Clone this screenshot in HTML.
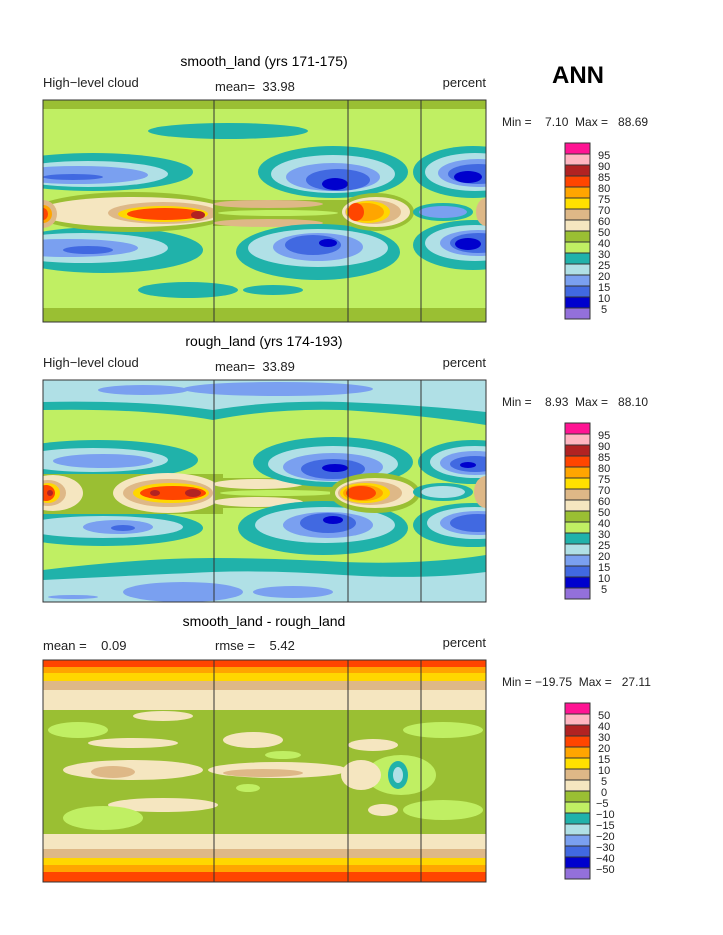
<!DOCTYPE html>
<html><head><meta charset="utf-8"><style>
body{margin:0;background:#fff;}
svg{display:block;font-family:"Liberation Sans",sans-serif;}
text{white-space:pre;}
</style></head><body>
<svg width="723" height="935" viewBox="0 0 723 935" xmlns="http://www.w3.org/2000/svg" xml:space="preserve">
<defs>
<clipPath id="cp"><rect x="0" y="0" width="443" height="222"/></clipPath>
</defs>
<rect width="723" height="935" fill="#fff"/>
<text x="578" y="83" font-size="24" font-weight="bold" text-anchor="middle">ANN</text>

<!-- Panel 1 -->
<text x="264" y="66" font-size="14" text-anchor="middle">smooth_land (yrs 171-175)</text>
<text x="43" y="87" font-size="13" fill="#222">High−level cloud</text>
<text x="215" y="91" font-size="13" fill="#222">mean=  33.98</text>
<text x="486" y="87" font-size="13" fill="#222" text-anchor="end">percent</text>
<g transform="translate(43,100)" clip-path="url(#cp)">
<rect width="443" height="222" fill="#c0ef63"/>
<rect y="0" width="443" height="9" fill="#9abf33"/>
<rect y="208" width="443" height="14" fill="#9abf33"/>
<ellipse cx="185" cy="31" rx="80" ry="8" fill="#20b2aa"/>
<ellipse cx="145" cy="190" rx="50" ry="8" fill="#20b2aa"/>
<ellipse cx="230" cy="190" rx="30" ry="5" fill="#20b2aa"/>
<!-- left upper -->
<ellipse cx="50" cy="72" rx="100" ry="19" fill="#20b2aa"/>
<ellipse cx="45" cy="74" rx="80" ry="13" fill="#b0e0e6"/>
<ellipse cx="35" cy="75" rx="70" ry="9" fill="#7aa0f0"/>
<ellipse cx="30" cy="77" rx="30" ry="3" fill="#4169e1"/>
<!-- left lower -->
<ellipse cx="60" cy="150" rx="100" ry="23" fill="#20b2aa"/>
<ellipse cx="40" cy="148" rx="85" ry="15" fill="#b0e0e6"/>
<ellipse cx="25" cy="148" rx="70" ry="9" fill="#7aa0f0"/>
<ellipse cx="45" cy="150" rx="25" ry="4" fill="#4169e1"/>
<!-- equator band -->
<ellipse cx="90" cy="112" rx="100" ry="20" fill="#9abf33"/>
<ellipse cx="90" cy="112" rx="95" ry="15" fill="#f5e6c0"/>
<ellipse cx="120" cy="113" rx="55" ry="11" fill="#deb887"/>
<ellipse cx="120" cy="114" rx="45" ry="8" fill="#ffd700"/>
<ellipse cx="122" cy="114" rx="38" ry="6" fill="#ff4500"/>
<ellipse cx="155" cy="115" rx="7" ry="4" fill="#b22222"/>
<ellipse cx="0" cy="114" rx="14" ry="14" fill="#deb887"/>
<ellipse cx="0" cy="114" rx="9" ry="9" fill="#ffa500"/>
<ellipse cx="0" cy="114" rx="5" ry="6" fill="#ff4500"/>
<rect x="170" y="100" width="140" height="26" fill="#9abf33"/>
<ellipse cx="225" cy="104" rx="55" ry="4" fill="#deb887"/>
<ellipse cx="225" cy="123" rx="55" ry="4" fill="#deb887"/>
<ellipse cx="235" cy="113" rx="60" ry="3" fill="#c0ef63"/>
<!-- center upper -->
<ellipse cx="290" cy="72" rx="75" ry="26" fill="#20b2aa"/>
<ellipse cx="290" cy="74" rx="62" ry="19" fill="#b0e0e6"/>
<ellipse cx="290" cy="77" rx="47" ry="14" fill="#7aa0f0"/>
<ellipse cx="295" cy="80" rx="32" ry="11" fill="#4169e1"/>
<ellipse cx="292" cy="84" rx="13" ry="6" fill="#0000cd"/>
<!-- center lower -->
<ellipse cx="275" cy="152" rx="82" ry="28" fill="#20b2aa"/>
<ellipse cx="275" cy="148" rx="70" ry="19" fill="#b0e0e6"/>
<ellipse cx="275" cy="147" rx="45" ry="14" fill="#7aa0f0"/>
<ellipse cx="270" cy="145" rx="28" ry="10" fill="#4169e1"/>
<ellipse cx="285" cy="143" rx="9" ry="4" fill="#0000cd"/>
<!-- right equator -->
<ellipse cx="333" cy="112" rx="38" ry="19" fill="#9abf33"/>
<ellipse cx="333" cy="112" rx="34" ry="15" fill="#f5e6c0"/>
<ellipse cx="330" cy="112" rx="28" ry="12" fill="#deb887"/>
<ellipse cx="325" cy="112" rx="22" ry="11" fill="#ffd700"/>
<ellipse cx="323" cy="112" rx="18" ry="9" fill="#ffa500"/>
<ellipse cx="313" cy="112" rx="8" ry="9" fill="#ff4500"/>
<!-- right -->
<ellipse cx="430" cy="72" rx="60" ry="26" fill="#20b2aa"/>
<ellipse cx="432" cy="72" rx="50" ry="19" fill="#b0e0e6"/>
<ellipse cx="435" cy="73" rx="40" ry="14" fill="#7aa0f0"/>
<ellipse cx="435" cy="74" rx="30" ry="10" fill="#4169e1"/>
<ellipse cx="425" cy="77" rx="14" ry="6" fill="#0000cd"/>
<ellipse cx="430" cy="145" rx="60" ry="25" fill="#20b2aa"/>
<ellipse cx="432" cy="143" rx="50" ry="18" fill="#b0e0e6"/>
<ellipse cx="435" cy="143" rx="38" ry="13" fill="#7aa0f0"/>
<ellipse cx="435" cy="143" rx="28" ry="10" fill="#4169e1"/>
<ellipse cx="425" cy="144" rx="13" ry="6" fill="#0000cd"/>
<ellipse cx="400" cy="112" rx="30" ry="9" fill="#20b2aa"/>
<ellipse cx="400" cy="112" rx="24" ry="6" fill="#7aa0f0"/>
<ellipse cx="443" cy="112" rx="10" ry="14" fill="#deb887"/>
</g>
<rect x="43" y="100" width="443" height="222" fill="none" stroke="#333"/>
<g stroke="#333"><line x1="214" y1="100" x2="214" y2="322"/><line x1="348" y1="100" x2="348" y2="322"/><line x1="421" y1="100" x2="421" y2="322"/></g>
<text x="502" y="126" font-size="12" fill="#222">Min =    7.10  Max =   88.69</text>

<!-- Panel 2 -->
<text x="264" y="346" font-size="14" text-anchor="middle">rough_land (yrs 174-193)</text>
<text x="43" y="367" font-size="13" fill="#222">High−level cloud</text>
<text x="215" y="371" font-size="13" fill="#222">mean=  33.89</text>
<text x="486" y="367" font-size="13" fill="#222" text-anchor="end">percent</text>
<g transform="translate(43,380)" clip-path="url(#cp)">
<rect width="443" height="222" fill="#c0ef63"/>
<path d="M0 0H443V45Q380 35 300 30Q230 28 170 40Q100 28 0 30Z" fill="#20b2aa"/>
<path d="M0 0H443V32Q380 25 300 22Q230 20 170 30Q100 20 0 22Z" fill="#b0e0e6"/>
<ellipse cx="100" cy="10" rx="45" ry="5" fill="#7aa0f0"/>
<ellipse cx="235" cy="9" rx="95" ry="7" fill="#7aa0f0"/>
<path d="M0 222H443V175Q380 185 300 182Q230 178 170 178Q100 178 0 190Z" fill="#20b2aa"/>
<path d="M0 222H443V192Q380 200 300 195Q230 190 170 192Q100 195 0 200Z" fill="#b0e0e6"/>
<ellipse cx="140" cy="212" rx="60" ry="10" fill="#7aa0f0"/>
<ellipse cx="30" cy="217" rx="25" ry="2" fill="#7aa0f0"/>
<ellipse cx="250" cy="212" rx="40" ry="6" fill="#7aa0f0"/>
<ellipse cx="55" cy="80" rx="100" ry="20" fill="#20b2aa"/>
<ellipse cx="50" cy="80" rx="75" ry="12" fill="#b0e0e6"/>
<ellipse cx="60" cy="81" rx="50" ry="7" fill="#7aa0f0"/>
<ellipse cx="60" cy="148" rx="100" ry="18" fill="#20b2aa"/>
<ellipse cx="60" cy="147" rx="80" ry="11" fill="#b0e0e6"/>
<ellipse cx="75" cy="147" rx="35" ry="7" fill="#7aa0f0"/>
<ellipse cx="80" cy="148" rx="12" ry="3" fill="#4169e1"/>
<rect x="0" y="94" width="180" height="40" fill="#9abf33"/>
<ellipse cx="10" cy="113" rx="30" ry="18" fill="#f5e6c0"/>
<ellipse cx="5" cy="113" rx="18" ry="13" fill="#deb887"/>
<ellipse cx="5" cy="113" rx="12" ry="10" fill="#ffd700"/>
<ellipse cx="3" cy="113" rx="9" ry="8" fill="#ff4500"/>
<ellipse cx="7" cy="113" rx="3" ry="3" fill="#b22222"/>
<ellipse cx="125" cy="113" rx="55" ry="20" fill="#f5e6c0"/>
<ellipse cx="125" cy="113" rx="45" ry="14" fill="#deb887"/>
<ellipse cx="128" cy="113" rx="38" ry="10" fill="#ffd700"/>
<ellipse cx="130" cy="113" rx="33" ry="7" fill="#ff4500"/>
<ellipse cx="150" cy="113" rx="8" ry="4" fill="#b22222"/>
<ellipse cx="112" cy="113" rx="5" ry="3" fill="#b22222"/>
<rect x="172" y="98" width="130" height="30" fill="#9abf33"/>
<ellipse cx="215" cy="104" rx="45" ry="5" fill="#f5e6c0"/>
<ellipse cx="215" cy="122" rx="45" ry="5" fill="#f5e6c0"/>
<ellipse cx="235" cy="113" rx="58" ry="3" fill="#c0ef63"/>
<ellipse cx="290" cy="82" rx="80" ry="25" fill="#20b2aa"/>
<ellipse cx="290" cy="84" rx="65" ry="18" fill="#b0e0e6"/>
<ellipse cx="290" cy="87" rx="50" ry="14" fill="#7aa0f0"/>
<ellipse cx="290" cy="89" rx="32" ry="10" fill="#4169e1"/>
<ellipse cx="292" cy="88" rx="13" ry="4" fill="#0000cd"/>
<ellipse cx="280" cy="148" rx="85" ry="27" fill="#20b2aa"/>
<ellipse cx="282" cy="145" rx="70" ry="18" fill="#b0e0e6"/>
<ellipse cx="285" cy="145" rx="45" ry="13" fill="#7aa0f0"/>
<ellipse cx="285" cy="143" rx="28" ry="10" fill="#4169e1"/>
<ellipse cx="290" cy="140" rx="10" ry="4" fill="#0000cd"/>
<ellipse cx="332" cy="113" rx="45" ry="20" fill="#9abf33"/>
<ellipse cx="332" cy="113" rx="40" ry="15" fill="#f5e6c0"/>
<ellipse cx="327" cy="113" rx="32" ry="12" fill="#deb887"/>
<ellipse cx="322" cy="113" rx="25" ry="10" fill="#ffd700"/>
<ellipse cx="320" cy="113" rx="20" ry="8" fill="#ffa500"/>
<ellipse cx="318" cy="113" rx="15" ry="7" fill="#ff4500"/>
<ellipse cx="430" cy="82" rx="55" ry="22" fill="#20b2aa"/>
<ellipse cx="432" cy="82" rx="45" ry="16" fill="#b0e0e6"/>
<ellipse cx="432" cy="83" rx="35" ry="12" fill="#7aa0f0"/>
<ellipse cx="432" cy="84" rx="25" ry="8" fill="#4169e1"/>
<ellipse cx="425" cy="85" rx="8" ry="3" fill="#0000cd"/>
<ellipse cx="430" cy="145" rx="60" ry="22" fill="#20b2aa"/>
<ellipse cx="432" cy="143" rx="48" ry="16" fill="#b0e0e6"/>
<ellipse cx="435" cy="143" rx="38" ry="12" fill="#7aa0f0"/>
<ellipse cx="435" cy="143" rx="28" ry="9" fill="#4169e1"/>
<ellipse cx="400" cy="112" rx="30" ry="9" fill="#20b2aa"/>
<ellipse cx="400" cy="112" rx="22" ry="6" fill="#b0e0e6"/>
<ellipse cx="443" cy="112" rx="12" ry="16" fill="#deb887"/>
</g>
<rect x="43" y="380" width="443" height="222" fill="none" stroke="#333"/>
<g stroke="#333"><line x1="214" y1="380" x2="214" y2="602"/><line x1="348" y1="380" x2="348" y2="602"/><line x1="421" y1="380" x2="421" y2="602"/></g>
<text x="502" y="406" font-size="12" fill="#222">Min =    8.93  Max =   88.10</text>

<!-- Panel 3 -->
<text x="264" y="626" font-size="14" text-anchor="middle">smooth_land - rough_land</text>
<text x="43" y="650" font-size="13" fill="#222">mean =    0.09</text>
<text x="215" y="650" font-size="13" fill="#222">rmse =    5.42</text>
<text x="486" y="647" font-size="13" fill="#222" text-anchor="end">percent</text>
<g transform="translate(43,660)" clip-path="url(#cp)">
<rect width="443" height="222" fill="#9abf33"/>
<rect y="0" width="443" height="50" fill="#f5e6c0"/>
<rect y="0" width="443" height="30" fill="#deb887"/>
<rect y="0" width="443" height="21" fill="#ffd700"/>
<rect y="0" width="443" height="13" fill="#ffa500"/>
<rect y="0" width="443" height="7" fill="#ff4500"/>
<rect y="174" width="443" height="48" fill="#f5e6c0"/>
<rect y="189" width="443" height="33" fill="#deb887"/>
<rect y="198" width="443" height="24" fill="#ffd700"/>
<rect y="205" width="443" height="17" fill="#ffa500"/>
<rect y="212" width="443" height="10" fill="#ff4500"/>
<ellipse cx="120" cy="56" rx="30" ry="5" fill="#f5e6c0"/>
<ellipse cx="90" cy="110" rx="70" ry="10" fill="#f5e6c0"/>
<ellipse cx="70" cy="112" rx="22" ry="6" fill="#deb887"/>
<ellipse cx="120" cy="145" rx="55" ry="7" fill="#f5e6c0"/>
<ellipse cx="90" cy="83" rx="45" ry="5" fill="#f5e6c0"/>
<ellipse cx="235" cy="110" rx="70" ry="8" fill="#f5e6c0"/>
<ellipse cx="220" cy="113" rx="40" ry="4" fill="#deb887"/>
<ellipse cx="210" cy="80" rx="30" ry="8" fill="#f5e6c0"/>
<ellipse cx="35" cy="70" rx="30" ry="8" fill="#c0ef63"/>
<ellipse cx="60" cy="158" rx="40" ry="12" fill="#c0ef63"/>
<ellipse cx="400" cy="70" rx="40" ry="8" fill="#c0ef63"/>
<ellipse cx="400" cy="150" rx="40" ry="10" fill="#c0ef63"/>
<ellipse cx="358" cy="115" rx="35" ry="20" fill="#c0ef63"/>
<ellipse cx="318" cy="115" rx="20" ry="15" fill="#f5e6c0"/>
<ellipse cx="355" cy="115" rx="10" ry="14" fill="#20b2aa"/>
<ellipse cx="355" cy="115" rx="5" ry="8" fill="#b0e0e6"/>
<ellipse cx="240" cy="95" rx="18" ry="4" fill="#c0ef63"/>
<ellipse cx="205" cy="128" rx="12" ry="4" fill="#c0ef63"/>
<ellipse cx="330" cy="85" rx="25" ry="6" fill="#f5e6c0"/>
<ellipse cx="340" cy="150" rx="15" ry="6" fill="#f5e6c0"/>
</g>
<rect x="43" y="660" width="443" height="222" fill="none" stroke="#333"/>
<g stroke="#333"><line x1="214" y1="660" x2="214" y2="882"/><line x1="348" y1="660" x2="348" y2="882"/><line x1="421" y1="660" x2="421" y2="882"/></g>
<text x="502" y="686" font-size="12" fill="#222">Min = −19.75  Max =   27.11</text>

<g id="cb1" stroke="#333" stroke-width="1">
<rect x="565" y="143" width="25" height="11" fill="#ff1493"/>
<rect x="565" y="154" width="25" height="11" fill="#ffb6c1"/>
<rect x="565" y="165" width="25" height="11" fill="#b22222"/>
<rect x="565" y="176" width="25" height="11" fill="#ff4500"/>
<rect x="565" y="187" width="25" height="11" fill="#ffa500"/>
<rect x="565" y="198" width="25" height="11" fill="#ffe000"/>
<rect x="565" y="209" width="25" height="11" fill="#deb887"/>
<rect x="565" y="220" width="25" height="11" fill="#f5e6c0"/>
<rect x="565" y="231" width="25" height="11" fill="#9abf33"/>
<rect x="565" y="242" width="25" height="11" fill="#c0ef63"/>
<rect x="565" y="253" width="25" height="11" fill="#20b2aa"/>
<rect x="565" y="264" width="25" height="11" fill="#b0e0e6"/>
<rect x="565" y="275" width="25" height="11" fill="#7aa0f0"/>
<rect x="565" y="286" width="25" height="11" fill="#4169e1"/>
<rect x="565" y="297" width="25" height="11" fill="#0000cd"/>
<rect x="565" y="308" width="25" height="11" fill="#9370db"/>
</g>
<use href="#cb1" y="280"/>
<use href="#cb1" y="560"/>
<g font-size="11" fill="#222">
<text x="598" y="159">95</text><text x="598" y="170">90</text><text x="598" y="181">85</text><text x="598" y="192">80</text><text x="598" y="203">75</text><text x="598" y="214">70</text><text x="598" y="225">60</text><text x="598" y="236">50</text><text x="598" y="247">40</text><text x="598" y="258">30</text><text x="598" y="269">25</text><text x="598" y="280">20</text><text x="598" y="291">15</text><text x="598" y="302">10</text><text x="601" y="313">5</text>
<text x="598" y="439">95</text><text x="598" y="450">90</text><text x="598" y="461">85</text><text x="598" y="472">80</text><text x="598" y="483">75</text><text x="598" y="494">70</text><text x="598" y="505">60</text><text x="598" y="516">50</text><text x="598" y="527">40</text><text x="598" y="538">30</text><text x="598" y="549">25</text><text x="598" y="560">20</text><text x="598" y="571">15</text><text x="598" y="582">10</text><text x="601" y="593">5</text>
<text x="598" y="719">50</text><text x="598" y="730">40</text><text x="598" y="741">30</text><text x="598" y="752">20</text><text x="598" y="763">15</text><text x="598" y="774">10</text><text x="601" y="785">5</text><text x="601" y="796">0</text><text x="596" y="807">−5</text><text x="596" y="818">−10</text><text x="596" y="829">−15</text><text x="596" y="840">−20</text><text x="596" y="851">−30</text><text x="596" y="862">−40</text><text x="596" y="873">−50</text>
</g>
</svg>
</body></html>
